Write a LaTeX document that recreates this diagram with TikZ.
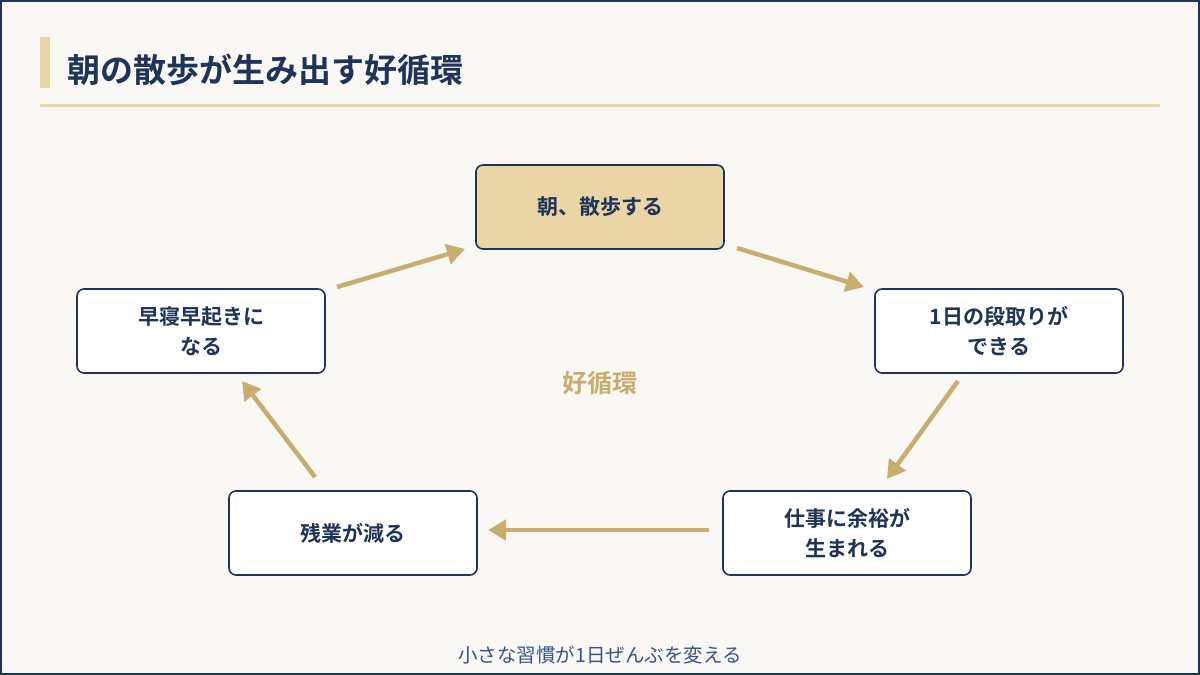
\documentclass[tikz,border=0pt]{standalone}
\usepackage{fontspec}
\setmainfont{Noto Sans CJK JP}
\newfontfamily\jpb{Noto Sans CJK JP Bold}
\usetikzlibrary{arrows.meta}
\definecolor{navy}{HTML}{1E3458}
\definecolor{gold}{HTML}{C9AD6E}
\definecolor{lgold}{HTML}{EAD5A6}
\definecolor{bg}{HTML}{FAF8F4}
\definecolor{footc}{HTML}{34558A}
\begin{document}
\begin{tikzpicture}[x=1pt,y=-1pt,
  box/.style={draw=navy,line width=1.6pt,fill=white,rounded corners=7pt,minimum width=248pt,minimum height=84pt,align=center,font=\jpb\fontsize{21}{30}\selectfont,text=navy},
  arr/.style={draw=gold,line width=4.5pt,-{Triangle[length=18pt,width=20pt]}}]
\path[fill=bg,draw=navy,line width=2pt] (1,1) rectangle (1199,674);
\useasboundingbox (0,0) rectangle (1200,675);
\fill[lgold] (40,37) rectangle (50,88);
\node[anchor=west,text=navy,font=\jpb\fontsize{33}{38}\selectfont] (title) at (64,70) {朝の散歩が生み出す好循環};
\draw[lgold,line width=3pt] (40,105) -- (1160,105);
\node[box,fill=lgold] (a) at (600,207) {朝、散歩する};
\node[box] (b) at (999,331) {1日の段取りが\\できる};
\node[box] (c) at (847,533) {仕事に余裕が\\生まれる};
\node[box] (d) at (353,533) {残業が減る};
\node[box] (e) at (201,331) {早寝早起きに\\なる};
\node[text=gold,font=\jpb\fontsize{25}{30}\selectfont] (mid) at (600,383) {好循環};
\coordinate (e1) at (337,287); \coordinate (a1) at (465,249);
\coordinate (a2) at (737,248); \coordinate (b1) at (864,287);
\coordinate (b2) at (958,381); \coordinate (c1) at (887,479);
\coordinate (c2) at (709,530); \coordinate (d1) at (488,530);
\coordinate (d2) at (315,477); \coordinate (e2) at (242,381);
\draw[arr] (e1) -- (a1);
\draw[arr] (a2) -- (b1);
\draw[arr] (b2) -- (c1);
\draw[arr] (c2) -- (d1);
\draw[arr] (d2) -- (e2);
\node[text=footc,font=\fontsize{19.5}{22}\selectfont] (foot) at (600,655) {小さな習慣が1日ぜんぶを変える};
\end{tikzpicture}
\end{document}
